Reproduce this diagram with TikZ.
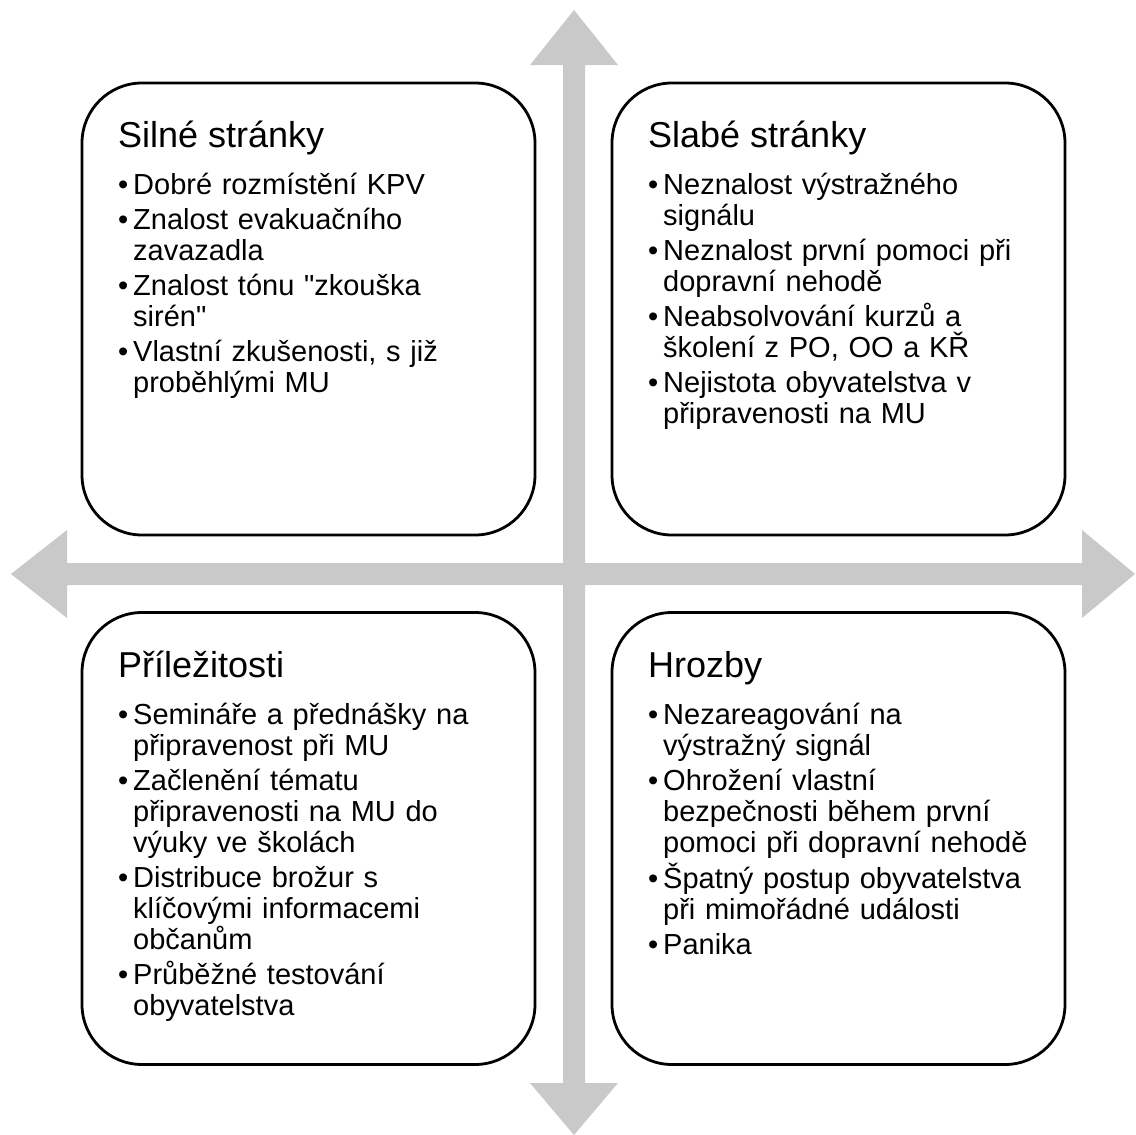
\documentclass[tikz,border=0pt]{standalone}
\usepackage{fontspec}
\setmainfont{Liberation Sans}[Ligatures=TeXOff]
\definecolor{arrgray}{RGB}{201,201,201}
\tikzset{
  quad/.style={draw=black, line width=2.8pt, rounded corners=60pt, fill=white,
    minimum width=453pt, minimum height=452pt, inner sep=0pt},
  qtitle/.style={anchor=base west, inner sep=0pt, font=\fontsize{36}{40}\selectfont},
  qlist/.style={anchor=north west, inner sep=0pt, text width=440pt, align=left,
    font=\fontsize{29}{31}\selectfont},
  crossarrow/.style={fill=arrgray, draw=none},
}
\newcommand\nl{\hfil\break}
\newcommand\bitem[1]{\par\noindent\hangindent=15pt\hangafter=1\makebox[15pt][l]{•}#1\par}
\newcommand\firstitem[1]{\par\noindent\hangindent=15pt\hangafter=1\vrule height 30pt width 0pt\makebox[15pt][l]{•}#1\par}
\newcommand\isep{\vspace{4pt}}
\begin{document}
\begin{tikzpicture}[x=1pt, y=-1pt]
\useasboundingbox (0,0) rectangle (1136,1135);
% cross arrows
\fill[crossarrow] (574,10) -- (618,65) -- (585,65) -- (585,1083) -- (618,1083) -- (574,1135)
  -- (530,1083) -- (563,1083) -- (563,65) -- (530,65) -- cycle;
\fill[crossarrow] (11,574) -- (67,530) -- (67,563) -- (1082,563) -- (1082,530) -- (1135,574)
  -- (1082,618) -- (1082,585) -- (67,585) -- (67,618) -- cycle;
% boxes
\node[quad] (tl) at (308.5,309) {};
\node[quad] (tr) at (838.5,309) {};
\node[quad] (bl) at (308.5,838.5) {};
\node[quad] (br) at (838.5,838.5) {};
% titles
\node[qtitle] (tlt) at (118,147) {Silné stránky};
\node[qtitle] (trt) at (648,147) {Slabé stránky};
\node[qtitle] (blt) at (118,677) {Příležitosti};
\node[qtitle] (brt) at (648,677) {Hrozby};
% lists (first baseline = node top + 30)
\node[qlist] (tll) at (118,163) {%
\firstitem{Dobré rozmístění KPV}\isep
\bitem{Znalost evakuačního\nl zavazadla}\isep
\bitem{Znalost tónu "zkouška\nl sirén"}\isep
\bitem{Vlastní zkušenosti, s již\nl proběhlými MU}};
\node[qlist] (trl) at (648,163) {%
\firstitem{Neznalost výstražného\nl signálu}\isep
\bitem{Neznalost první pomoci při\nl dopravní nehodě}\isep
\bitem{Neabsolvování kurzů a\nl školení z PO, OO a KŘ}\isep
\bitem{Nejistota obyvatelstva v\nl připravenosti na MU}};
\node[qlist] (bll) at (118,693) {%
\firstitem{Semináře a přednášky na\nl připravenost při MU}\isep
\bitem{Začlenění tématu\nl připravenosti na MU do\nl výuky ve školách}\isep
\bitem{Distribuce brožur s\nl klíčovými informacemi\nl občanům}\isep
\bitem{Průběžné testování\nl obyvatelstva}};
\node[qlist] (brl) at (648,693) {%
\firstitem{Nezareagování na\nl výstražný signál}\isep
\bitem{Ohrožení vlastní\nl bezpečnosti během první\nl pomoci při dopravní nehodě}\isep
\bitem{Špatný postup obyvatelstva\nl při mimořádné události}\isep
\bitem{Panika}};
\end{tikzpicture}
\end{document}
